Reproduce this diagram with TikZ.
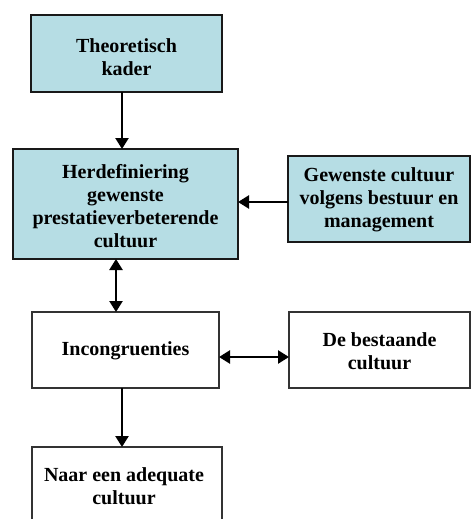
\documentclass[tikz,border=0pt]{standalone}
\usepackage{fontspec}
\setmainfont{Liberation Serif}
\usetikzlibrary{arrows.meta}
\definecolor{boxblue}{RGB}{182,221,228}
\begin{document}
\begin{tikzpicture}[x=1pt,y=-1pt,
  txt/.style={font=\fontsize{20}{23}\selectfont\bfseries, align=center, text=black},
  bluebox/.style={draw=black!90, line width=2.4pt, fill=boxblue},
  whitebox/.style={draw=black!80, line width=1.5pt, fill=white},
  tip/.style={Triangle[length=11pt,width=13pt]},
  conn/.style={line width=2.4pt, -{Triangle[length=11pt,width=13pt]}},
  biconn/.style={line width=2.4pt, {Triangle[length=11pt,width=13pt]}-{Triangle[length=11pt,width=13pt]}}]
\clip (0,0) rectangle (472,519);
\fill[white] (0,0) rectangle (472,519);

% boxes
\draw[bluebox] (31,15) rectangle (222,92);
\node[txt] (kader) at (126.5,57) {Theoretisch\\kader};
\coordinate (kaderB) at (122,92);

\draw[bluebox] (13,149) rectangle (238,259);
\node[txt] (herdef) at (125.5,206) {Herdefiniering\\gewenste\\prestatieverbeterende\\cultuur};
\coordinate (herdefT) at (122,149);
\coordinate (herdefB) at (116,259);
\coordinate (herdefR) at (238,202);

\draw[bluebox] (288,156) rectangle (470,242);
\node[txt] (gewenst) at (379,200) {Gewenste cultuur\\volgens bestuur en\\management};
\coordinate (gewenstL) at (288,202);

\draw[whitebox] (32,312) rectangle (219,388);
\node[txt] (incon) at (125.5,351) {Incongruenties};
\coordinate (inconT) at (116,312);
\coordinate (inconB) at (122,388);
\coordinate (inconR) at (219,357);

\draw[whitebox] (289,312) rectangle (470,388);
\node[txt] (bestaand) at (379.5,351) {De bestaande\\cultuur};
\coordinate (bestaandL) at (289,357);

\draw[whitebox] (32,447) rectangle (222,540);
\node[txt] (adequaat) at (124,486) {Naar een adequate\\cultuur};
\coordinate (adequaatT) at (122,447);

% connectors
\draw[conn] (kaderB) -- (herdefT);
\draw[conn] (gewenstL) -- (herdefR);
\draw[biconn] (herdefB) -- (inconT);
\draw[biconn] (inconR) -- (bestaandL);
\draw[conn] (inconB) -- (adequaatT);
\end{tikzpicture}
\end{document}
